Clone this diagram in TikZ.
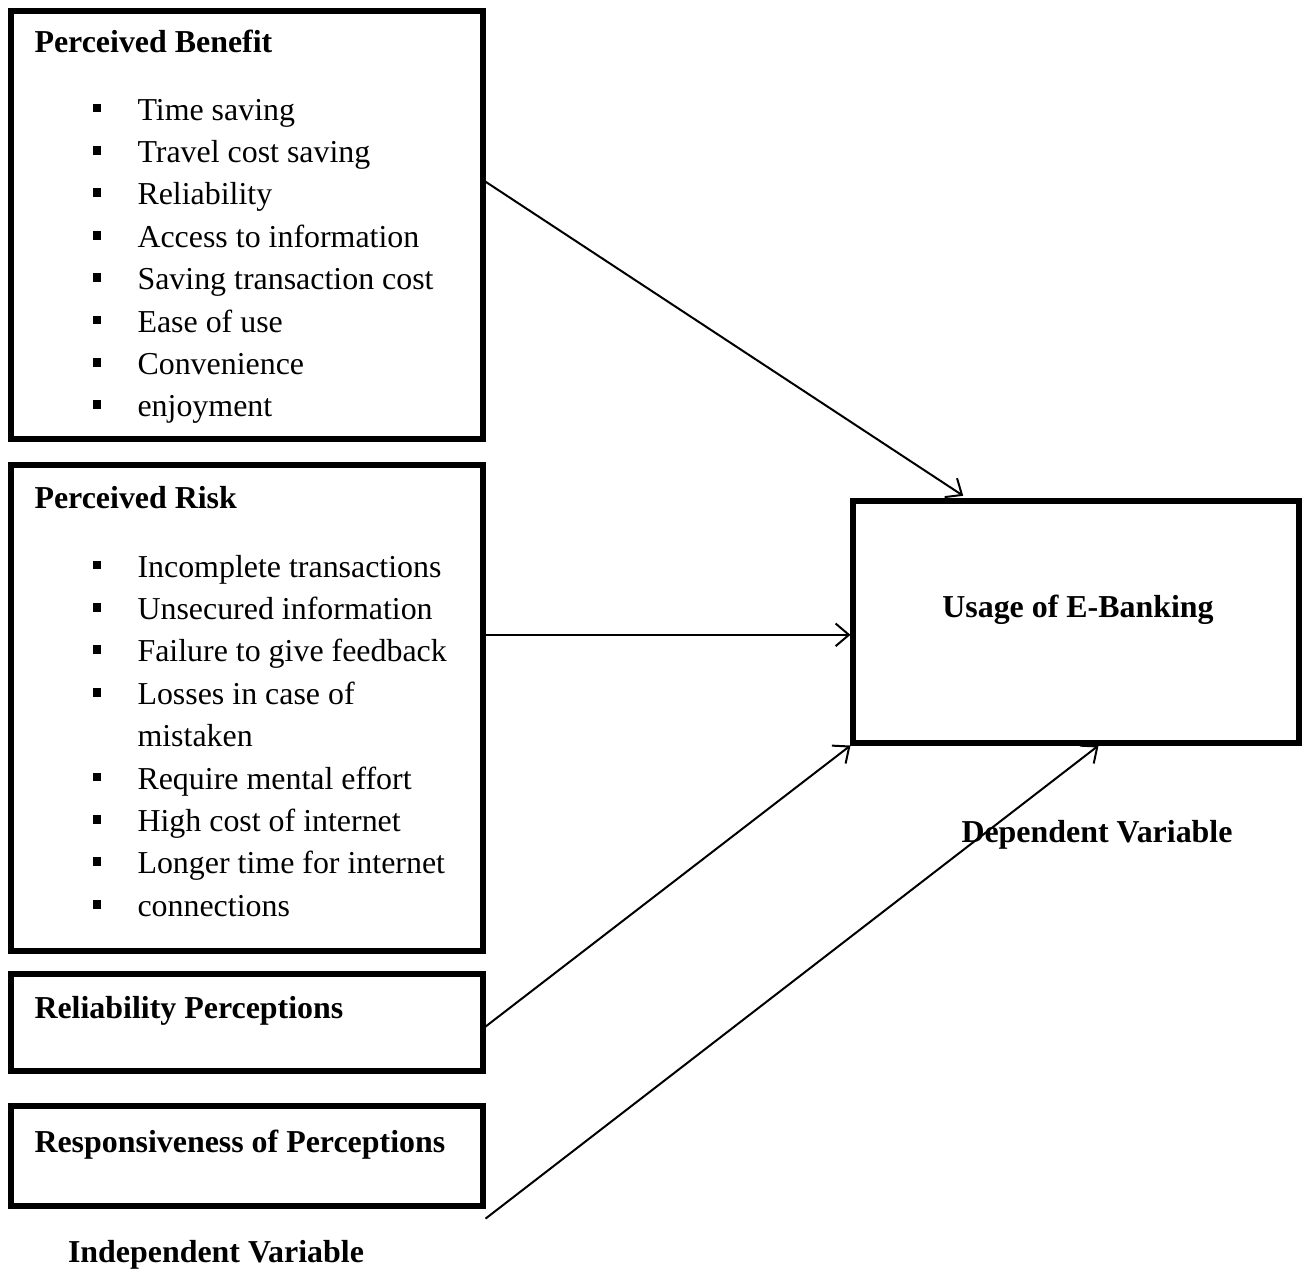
\documentclass[tikz,border=0pt]{standalone}
\usepackage{fontspec}
\setmainfont{Liberation Serif}
\usetikzlibrary{arrows.meta,calc,fit}
\begin{document}
\begin{tikzpicture}
[x=0.376pt,y=-0.376pt,
  varbox/.style={draw,line width=1.9pt,inner sep=0pt},%
  itemtext/.style={anchor=base west,inner sep=0pt,font=\fontsize{12}{14}\selectfont},%
  headtext/.style={itemtext,font=\fontsize{12}{14}\selectfont\bfseries},%
  bulletsq/.style={fill,inner sep=0pt,minimum size=3.3pt},%
  linkarrow/.style={-{Straight Barb[length=5pt,width=8.5pt]},line width=0.75pt}]
\useasboundingbox (0,0) rectangle (1303,1271);
%% boxes
\node (pb) [varbox,fit={(11,11) (483,439)}] {};
\node (pr) [varbox,fit={(11,465) (483,951)}] {};
\node (rp) [varbox,fit={(11,974) (483,1071)}] {};
\node (rs) [varbox,fit={(11,1106) (483,1206)}] {};
\node (ue) [varbox,fit={(853,501) (1299,743)}] {};
%% headings
\node (pbhead) [headtext] at (34,52) {Perceived Benefit};
\node (prhead) [headtext] at (34,508) {Perceived Risk};
\node (rphead) [headtext] at (34,1018) {Reliability Perceptions};
\node (rshead) [headtext] at (34,1152) {Responsiveness of Perceptions};
\node (uehead) [headtext,anchor=base] at (1078,617) {Usage of E-Banking};
\node (deplabel) [headtext,anchor=base] at (1097,842) {Dependent Variable};
\node (indlabel) [headtext,anchor=base] at (216,1262) {Independent Variable};
%% bullet lists
\foreach \entry [count=\i] in {Time saving, Travel cost saving, Reliability,
  Access to information, Saving transaction cost, Ease of use, Convenience,
  enjoyment} {
  \node (pbitem\i) [itemtext] at (137,{120+(\i-1)*42.4}) {\entry};
  \node (pbmark\i) [bulletsq] at (97,{108+(\i-1)*42.4}) {};
}
\foreach \entry/\mark [count=\i] in {Incomplete transactions/1,
  Unsecured information/1, Failure to give feedback/1, Losses in case of/1,
  mistaken/0, Require mental effort/1, High cost of internet/1,
  Longer time for internet/1, connections/1} {
  \node (pritem\i) [itemtext] at (137,{577+(\i-1)*42.4}) {\entry};
  \ifnum\mark=1
    \node (prmark\i) [bulletsq] at (97,{565+(\i-1)*42.4}) {};
  \fi
}
%% arrows
\coordinate (pbout) at ($(pb.north east)!0.4!(pb.south east)$);
\coordinate (prout) at ($(pr.north east)!0.351!(pr.south east)$);
\coordinate (rpout) at ($(rp.north east)!0.54!(rp.south east)$);
\coordinate (rsout) at ([yshift=-3.8pt]rs.south east);
\draw[linkarrow] (pbout) -- ([yshift=1pt]$(ue.north west)!0.25!(ue.north east)$);
\draw[linkarrow] (prout) -- (prout -| ue.west);
\draw[linkarrow] (rpout) -- (ue.south west);
\draw[linkarrow] (rsout) -- ($(ue.south west)!0.55!(ue.south east)$);
\end{tikzpicture}
\end{document}
